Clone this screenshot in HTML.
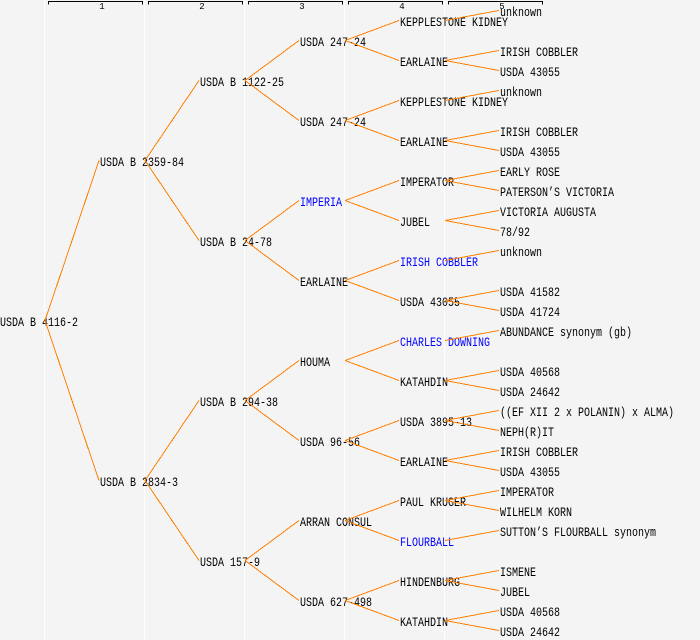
<!DOCTYPE html>
<html>
<head>
<meta charset="utf-8">
<style>
html,body{margin:0;padding:0;background:#f4f4f4;}
svg{display:block;}
text{font-family:"Liberation Mono","DejaVu Sans Mono",monospace;font-size:12.5px;fill:#000;}
text.b{fill:#0000ff;}
text.h{font-size:9px;}
</style>
</head>
<body>
<svg width="700" height="640" viewBox="0 0 700 640" xmlns="http://www.w3.org/2000/svg">
<rect x="0" y="0" width="700" height="640" fill="#f4f4f4"/>
<!-- white column lines -->
<g fill="#ffffff">
<rect x="44" y="0" width="1" height="640"/>
<rect x="144" y="0" width="1" height="640"/>
<rect x="244" y="0" width="1" height="640"/>
<rect x="344" y="0" width="1" height="640"/>
<rect x="444" y="0" width="1" height="640"/>
</g>
<!-- header brackets -->
<g fill="none" stroke="#000" stroke-width="1" shape-rendering="crispEdges">
<path d="M48.5 4.5V1.5H142.5V4.5"/>
<path d="M148.5 4.5V1.5H242.5V4.5"/>
<path d="M248.5 4.5V1.5H342.5V4.5"/>
<path d="M348.5 4.5V1.5H442.5V4.5"/>
<path d="M448.5 4.5V1.5H542.5V4.5"/>
</g>
<g text-anchor="middle">
<text class="h" x="102" y="9">1</text>
<text class="h" x="202" y="9">2</text>
<text class="h" x="302" y="9">3</text>
<text class="h" x="402" y="9">4</text>
<text class="h" x="502" y="9">5</text>
</g>

<!-- labels -->
<g>
<!-- root -->
<text x="0" y="326" textLength="78" lengthAdjust="spacingAndGlyphs">USDA B 4116-2</text>
<!-- level 1 -->
<text x="100" y="166" textLength="84" lengthAdjust="spacingAndGlyphs">USDA B 2359-84</text>
<text x="100" y="486" textLength="78" lengthAdjust="spacingAndGlyphs">USDA B 2834-3</text>
<!-- level 2 -->
<text x="200" y="86" textLength="84" lengthAdjust="spacingAndGlyphs">USDA B 1122-25</text>
<text x="200" y="246" textLength="72" lengthAdjust="spacingAndGlyphs">USDA B 24-78</text>
<text x="200" y="406" textLength="78" lengthAdjust="spacingAndGlyphs">USDA B 294-38</text>
<text x="200" y="566" textLength="60" lengthAdjust="spacingAndGlyphs">USDA 157-9</text>
<!-- level 3 -->
<text x="300" y="46" textLength="66" lengthAdjust="spacingAndGlyphs">USDA 247-24</text>
<text x="300" y="126" textLength="66" lengthAdjust="spacingAndGlyphs">USDA 247-24</text>
<text class="b" x="300" y="206" textLength="42" lengthAdjust="spacingAndGlyphs">IMPERIA</text>
<text x="300" y="286" textLength="48" lengthAdjust="spacingAndGlyphs">EARLAINE</text>
<text x="300" y="366" textLength="30" lengthAdjust="spacingAndGlyphs">HOUMA</text>
<text x="300" y="446" textLength="60" lengthAdjust="spacingAndGlyphs">USDA 96-56</text>
<text x="300" y="526" textLength="72" lengthAdjust="spacingAndGlyphs">ARRAN CONSUL</text>
<text x="300" y="606" textLength="72" lengthAdjust="spacingAndGlyphs">USDA 627-498</text>
<!-- level 4 -->
<text x="400" y="26" textLength="108" lengthAdjust="spacingAndGlyphs">KEPPLESTONE KIDNEY</text>
<text x="400" y="66" textLength="48" lengthAdjust="spacingAndGlyphs">EARLAINE</text>
<text x="400" y="106" textLength="108" lengthAdjust="spacingAndGlyphs">KEPPLESTONE KIDNEY</text>
<text x="400" y="146" textLength="48" lengthAdjust="spacingAndGlyphs">EARLAINE</text>
<text x="400" y="186" textLength="54" lengthAdjust="spacingAndGlyphs">IMPERATOR</text>
<text x="400" y="226" textLength="30" lengthAdjust="spacingAndGlyphs">JUBEL</text>
<text class="b" x="400" y="266" textLength="78" lengthAdjust="spacingAndGlyphs">IRISH COBBLER</text>
<text x="400" y="306" textLength="60" lengthAdjust="spacingAndGlyphs">USDA 43055</text>
<text class="b" x="400" y="346" textLength="90" lengthAdjust="spacingAndGlyphs">CHARLES DOWNING</text>
<text x="400" y="386" textLength="48" lengthAdjust="spacingAndGlyphs">KATAHDIN</text>
<text x="400" y="426" textLength="72" lengthAdjust="spacingAndGlyphs">USDA 3895-13</text>
<text x="400" y="466" textLength="48" lengthAdjust="spacingAndGlyphs">EARLAINE</text>
<text x="400" y="506" textLength="66" lengthAdjust="spacingAndGlyphs">PAUL KRUGER</text>
<text class="b" x="400" y="546" textLength="54" lengthAdjust="spacingAndGlyphs">FLOURBALL</text>
<text x="400" y="586" textLength="60" lengthAdjust="spacingAndGlyphs">HINDENBURG</text>
<text x="400" y="626" textLength="48" lengthAdjust="spacingAndGlyphs">KATAHDIN</text>
<!-- level 5 -->
<text x="500" y="16" textLength="42" lengthAdjust="spacingAndGlyphs">unknown</text>
<text x="500" y="56" textLength="78" lengthAdjust="spacingAndGlyphs">IRISH COBBLER</text>
<text x="500" y="76" textLength="60" lengthAdjust="spacingAndGlyphs">USDA 43055</text>
<text x="500" y="96" textLength="42" lengthAdjust="spacingAndGlyphs">unknown</text>
<text x="500" y="136" textLength="78" lengthAdjust="spacingAndGlyphs">IRISH COBBLER</text>
<text x="500" y="156" textLength="60" lengthAdjust="spacingAndGlyphs">USDA 43055</text>
<text x="500" y="176" textLength="60" lengthAdjust="spacingAndGlyphs">EARLY ROSE</text>
<text x="500" y="196" textLength="114" lengthAdjust="spacingAndGlyphs">PATERSON’S VICTORIA</text>
<text x="500" y="216" textLength="96" lengthAdjust="spacingAndGlyphs">VICTORIA AUGUSTA</text>
<text x="500" y="236" textLength="30" lengthAdjust="spacingAndGlyphs">78/92</text>
<text x="500" y="256" textLength="42" lengthAdjust="spacingAndGlyphs">unknown</text>
<text x="500" y="296" textLength="60" lengthAdjust="spacingAndGlyphs">USDA 41582</text>
<text x="500" y="316" textLength="60" lengthAdjust="spacingAndGlyphs">USDA 41724</text>
<text x="500" y="336" textLength="132" lengthAdjust="spacingAndGlyphs">ABUNDANCE synonym (gb)</text>
<text x="500" y="376" textLength="60" lengthAdjust="spacingAndGlyphs">USDA 40568</text>
<text x="500" y="396" textLength="60" lengthAdjust="spacingAndGlyphs">USDA 24642</text>
<text x="500" y="416" textLength="174" lengthAdjust="spacingAndGlyphs">((EF XII 2 x POLANIN) x ALMA)</text>
<text x="500" y="436" textLength="54" lengthAdjust="spacingAndGlyphs">NEPH(R)IT</text>
<text x="500" y="456" textLength="78" lengthAdjust="spacingAndGlyphs">IRISH COBBLER</text>
<text x="500" y="476" textLength="60" lengthAdjust="spacingAndGlyphs">USDA 43055</text>
<text x="500" y="496" textLength="54" lengthAdjust="spacingAndGlyphs">IMPERATOR</text>
<text x="500" y="516" textLength="72" lengthAdjust="spacingAndGlyphs">WILHELM KORN</text>
<text x="500" y="536" textLength="156" lengthAdjust="spacingAndGlyphs">SUTTON’S FLOURBALL synonym</text>
<text x="500" y="576" textLength="36" lengthAdjust="spacingAndGlyphs">ISMENE</text>
<text x="500" y="596" textLength="30" lengthAdjust="spacingAndGlyphs">JUBEL</text>
<text x="500" y="616" textLength="60" lengthAdjust="spacingAndGlyphs">USDA 40568</text>
<text x="500" y="636" textLength="60" lengthAdjust="spacingAndGlyphs">USDA 24642</text>
</g>

<!-- connectors -->
<g stroke="#ff8000" stroke-width="1" fill="none" shape-rendering="crispEdges">
<!-- root -> L1 -->
<line x1="45" y1="320.5" x2="99" y2="160.5"/>
<line x1="45" y1="320.5" x2="99" y2="480.5"/>
<!-- L1 -> L2 -->
<line x1="145" y1="160.5" x2="199" y2="80.5"/>
<line x1="145" y1="160.5" x2="199" y2="240.5"/>
<line x1="145" y1="480.5" x2="199" y2="400.5"/>
<line x1="145" y1="480.5" x2="199" y2="560.5"/>
<!-- L2 -> L3 -->
<line x1="245" y1="80.5" x2="299" y2="40.5"/>
<line x1="245" y1="80.5" x2="299" y2="120.5"/>
<line x1="245" y1="240.5" x2="299" y2="200.5"/>
<line x1="245" y1="240.5" x2="299" y2="280.5"/>
<line x1="245" y1="400.5" x2="299" y2="360.5"/>
<line x1="245" y1="400.5" x2="299" y2="440.5"/>
<line x1="245" y1="560.5" x2="299" y2="520.5"/>
<line x1="245" y1="560.5" x2="299" y2="600.5"/>
<!-- L3 -> L4 -->
<line x1="345" y1="40.5" x2="399" y2="20.5"/>
<line x1="345" y1="40.5" x2="399" y2="60.5"/>
<line x1="345" y1="120.5" x2="399" y2="100.5"/>
<line x1="345" y1="120.5" x2="399" y2="140.5"/>
<line x1="345" y1="200.5" x2="399" y2="180.5"/>
<line x1="345" y1="200.5" x2="399" y2="220.5"/>
<line x1="345" y1="280.5" x2="399" y2="260.5"/>
<line x1="345" y1="280.5" x2="399" y2="300.5"/>
<line x1="345" y1="360.5" x2="399" y2="340.5"/>
<line x1="345" y1="360.5" x2="399" y2="380.5"/>
<line x1="345" y1="440.5" x2="399" y2="420.5"/>
<line x1="345" y1="440.5" x2="399" y2="460.5"/>
<line x1="345" y1="520.5" x2="399" y2="500.5"/>
<line x1="345" y1="520.5" x2="399" y2="540.5"/>
<line x1="345" y1="600.5" x2="399" y2="580.5"/>
<line x1="345" y1="600.5" x2="399" y2="620.5"/>
<!-- L4 -> L5 -->
<line x1="445" y1="20.5" x2="499" y2="10.5"/>
<line x1="445" y1="60.5" x2="499" y2="50.5"/>
<line x1="445" y1="60.5" x2="499" y2="70.5"/>
<line x1="445" y1="100.5" x2="499" y2="90.5"/>
<line x1="445" y1="140.5" x2="499" y2="130.5"/>
<line x1="445" y1="140.5" x2="499" y2="150.5"/>
<line x1="445" y1="180.5" x2="499" y2="170.5"/>
<line x1="445" y1="180.5" x2="499" y2="190.5"/>
<line x1="445" y1="220.5" x2="499" y2="210.5"/>
<line x1="445" y1="220.5" x2="499" y2="230.5"/>
<line x1="445" y1="260.5" x2="499" y2="250.5"/>
<line x1="445" y1="300.5" x2="499" y2="290.5"/>
<line x1="445" y1="300.5" x2="499" y2="310.5"/>
<line x1="445" y1="340.5" x2="499" y2="330.5"/>
<line x1="445" y1="380.5" x2="499" y2="370.5"/>
<line x1="445" y1="380.5" x2="499" y2="390.5"/>
<line x1="445" y1="420.5" x2="499" y2="410.5"/>
<line x1="445" y1="420.5" x2="499" y2="430.5"/>
<line x1="445" y1="460.5" x2="499" y2="450.5"/>
<line x1="445" y1="460.5" x2="499" y2="470.5"/>
<line x1="445" y1="500.5" x2="499" y2="490.5"/>
<line x1="445" y1="500.5" x2="499" y2="510.5"/>
<line x1="445" y1="540.5" x2="499" y2="530.5"/>
<line x1="445" y1="580.5" x2="499" y2="570.5"/>
<line x1="445" y1="580.5" x2="499" y2="590.5"/>
<line x1="445" y1="620.5" x2="499" y2="610.5"/>
<line x1="445" y1="620.5" x2="499" y2="630.5"/>
</g>
</svg>
</body>
</html>
